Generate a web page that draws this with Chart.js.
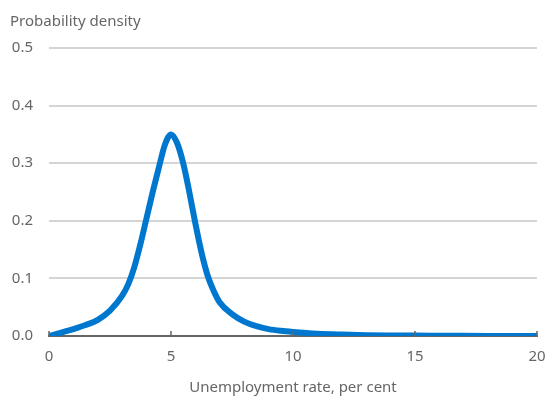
<!DOCTYPE html>
<html>
<head>
<meta charset="utf-8">
<script src="https://cdn.jsdelivr.net/npm/chart.js@4/dist/chart.umd.min.js"></script>
<style>
  body { margin: 0; background: #fff; }
  #wrap { width: 546px; height: 397px; }
</style>
</head>
<body>
<div id="wrap"><canvas id="grafico"></canvas></div>
<script>
// unemployment rate (per cent) and probability density
const taxa = [0, 0.5, 1, 1.5, 2, 2.5, 3, 3.25, 3.5, 3.75, 4, 4.25, 4.5, 4.75, 5, 5.25, 5.5, 5.75, 6, 6.25, 6.5, 6.75, 7, 7.5, 8, 8.5, 9, 9.5, 10, 11, 12, 13, 14, 15, 16, 17, 18, 19, 20];
const densidade = [0, 0.006, 0.012, 0.019, 0.028, 0.044, 0.07, 0.09, 0.12, 0.16, 0.205, 0.25, 0.292, 0.332, 0.35, 0.335, 0.30, 0.25, 0.195, 0.145, 0.105, 0.078, 0.058, 0.038, 0.025, 0.017, 0.012, 0.009, 0.007, 0.004, 0.0025, 0.0015, 0.001, 0.0007, 0.0005, 0.0003, 0.0002, 0.0001, 0.0001];
const ticksX = [0, 5, 10, 15, 20];

const cinza = '#666666';
const fonte = { family: '"Noto Sans", sans-serif', size: 15, weight: 'normal' };

// tick marks drawn upward from the x axis
const marcasX = {
    id: 'marcasX',
    afterDraw(chart) {
        const ctx = chart.ctx;
        const x = chart.scales.x;
        const base = chart.chartArea.bottom;
        ctx.save();
        ctx.strokeStyle = cinza;
        ctx.lineWidth = 1.5;
        ticksX.forEach(function (t) {
            const px = x.getPixelForValue(t);
            ctx.beginPath();
            ctx.moveTo(px, base);
            ctx.lineTo(px, base - 5);
            ctx.stroke();
        });
        ctx.restore();
    }
};

let pontos = [];
for (let i = 0; i < taxa.length; i++) {
    pontos.push({ x: taxa[i], y: densidade[i] });
}

const config = {
    type: 'line',
    data: {
        datasets: [{
            label: 'Density',
            data: pontos,
            borderColor: '#0077CF',
            borderWidth: 6,
            pointRadius: 0,
            fill: false,
            cubicInterpolationMode: 'monotone',
            borderCapStyle: 'round'
        }]
    },
    options: {
        responsive: true,
        maintainAspectRatio: false,
        animation: false,
        layout: { padding: { left: 10, right: 9, top: 13, bottom: 0 } },
        plugins: {
            legend: { display: false },
            tooltip: { enabled: false },
            title: {
                display: true,
                text: 'Probability density',
                align: 'start',
                color: cinza,
                font: fonte,
                padding: { top: 0, bottom: 17 }
            }
        },
        scales: {
            x: {
                type: 'linear',
                min: 0,
                max: 20,
                afterBuildTicks: function (axis) {
                    axis.ticks = ticksX.map(function (v) { return { value: v }; });
                },
                afterFit: function (axis) {
                    axis.paddingLeft = 0;
                    axis.paddingRight = 0;
                },
                grid: { display: false, drawTicks: false },
                border: { display: true, color: cinza, width: 2 },
                ticks: { color: cinza, font: fonte, padding: 12 },
                title: {
                    display: true,
                    text: 'Unemployment rate, per cent',
                    color: cinza,
                    font: fonte,
                    padding: { top: 1, bottom: 0 }
                }
            },
            y: {
                min: 0,
                max: 0.5,
                afterFit: function (axis) { axis.width = 39; },
                ticks: {
                    stepSize: 0.1,
                    color: cinza,
                    font: fonte,
                    padding: 16,
                    callback: function (v) { return v.toFixed(1); }
                },
                grid: { color: '#d4d4d4', lineWidth: 2, drawTicks: false },
                border: { display: false }
            }
        }
    },
    plugins: [marcasX]
};

let myChart = new Chart(document.getElementById('grafico'), config);
</script>
</body>
</html>
